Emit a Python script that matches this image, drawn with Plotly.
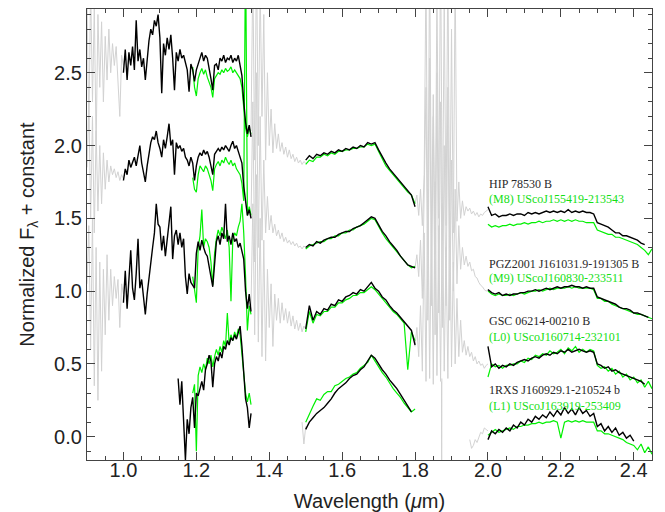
import numpy as np
import plotly.graph_objects as go

# sampling of the spectra (micron)
J_STEP = 0.005
HK_STEP = 0.01

# ---------------- HIP 78530 B  /  (M8) USco J155419-213543 ----------------
OBJ1_GRAY_A = [3.00, 2.10, 3.10, 2.30, 2.95, 2.00, 2.90, 2.40, 2.85, 2.30,
               2.75, 2.45, 2.80, 2.50, 2.70, 2.55, 2.68, 2.45, 2.20, 2.62, 2.55]
OBJ1_GRAY_B = [2.10, 3.20, 1.90, 3.30, 2.00, 3.10, 2.20, 2.90, 1.90, 2.50,
               2.00, 2.25, 1.95, 2.15, 1.98, 2.08, 1.96, 2.02, 1.94, 1.99,
               1.92, 1.97, 1.91, 1.94, 1.89, 1.92, 1.88, 1.90, 1.87, 1.89, 1.88]
OBJ1_GRAY_C = [1.60, 1.66, 1.52, 1.70, 1.45, 1.80, 3.20, 1.30, 3.30, 1.40,
               2.35, 1.25, 3.10, 1.50, 3.40, 1.35, 3.00, 1.45, 3.30, 1.30,
               2.80, 1.40, 3.20, 1.48, 1.75, 1.50, 1.62, 1.52, 1.58, 1.55,
               1.57, 1.53, 1.55, 1.52, 1.54, 1.51, 1.53, 1.52, 1.54, 1.55, 1.56]
OBJ1_J_BLACK = [2.50, 2.66, 2.45, 2.64, 2.55, 2.68, 2.52, 2.86, 2.58, 2.66,
                2.54, 2.60, 2.45, 2.62, 2.72, 2.80, 2.76, 2.86, 2.82, 2.90,
                2.74, 2.36, 2.70, 2.62, 2.74, 2.66, 2.76, 2.60, 2.38, 2.64,
                2.58, 2.66, 2.60, 2.62, 2.56, 2.52, 2.37, 2.56, 2.52, 2.44,
                2.52, 2.56, 2.60, 2.64, 2.58, 2.62, 2.60, 2.54, 2.46, 2.38,
                2.55, 2.56, 2.52, 2.60, 2.58, 2.62, 2.57, 2.60, 2.59, 2.62,
                2.57, 2.60, 2.58, 2.62, 2.56, 2.48, 2.30, 2.16, 2.08, 2.14, 2.06]
OBJ1_J_GREEN = [2.54, 2.40, 2.34, 2.46, 2.50, 2.53, 2.49, 2.52, 2.47, 2.44,
                2.40, 2.33, 2.46, 2.48, 2.50, 2.49, 2.52, 2.50, 2.53, 2.51,
                2.52, 2.54, 2.50, 2.52, 2.50, 2.48, 2.46, 2.40, 2.24, 2.12,
                2.06, 2.12, 2.08]
OBJ1_H_BLACK = [1.90, 1.93, 1.91, 1.94, 1.93, 1.95, 1.94, 1.96, 1.95, 1.97,
                1.96, 1.98, 1.97, 1.99, 1.98, 2.00, 1.99, 2.02, 2.01, 2.02,
                1.97, 1.92, 1.88, 1.84, 1.81, 1.78, 1.75, 1.72, 1.69, 1.66, 1.58]
OBJ1_H_GREEN = [1.87, 1.90, 1.89, 1.92, 1.92, 1.94, 1.93, 1.95, 1.94, 1.96,
                1.96, 1.97, 1.97, 1.98, 1.98, 1.99, 1.99, 2.01, 2.00, 2.01,
                1.96, 1.91, 1.86, 1.83, 1.80, 1.77, 1.74, 1.71, 1.68, 1.66, 1.60]
OBJ1_K_BLACK = [1.58, 1.52, 1.53, 1.51, 1.52, 1.52, 1.53, 1.52, 1.53, 1.53,
                1.52, 1.54, 1.53, 1.54, 1.53, 1.54, 1.55, 1.54, 1.55, 1.54,
                1.55, 1.54, 1.56, 1.54, 1.55, 1.54, 1.55, 1.54, 1.54, 1.53,
                1.47, 1.46, 1.45, 1.44, 1.42, 1.40, 1.40, 1.38, 1.38, 1.37,
                1.36, 1.35, 1.33, 1.32]
OBJ1_K_GREEN = [1.46, 1.44, 1.45, 1.44, 1.45, 1.45, 1.46, 1.45, 1.46, 1.46,
                1.47, 1.46, 1.47, 1.47, 1.48, 1.47, 1.48, 1.48, 1.49, 1.48,
                1.49, 1.48, 1.49, 1.48, 1.49, 1.48, 1.48, 1.47, 1.47, 1.47,
                1.42, 1.41, 1.40, 1.39, 1.39, 1.37, 1.37, 1.36, 1.35, 1.34,
                1.33, 1.32, 1.30, 1.28, 1.25, 1.29]

# ------------- PGZ2001 J161031.9-191305 B  /  (M9) USco J160830-233511 -------------
OBJ2_GRAY_A = [1.85, 2.30, 1.50, 2.20, 1.40, 2.10, 1.55, 2.00, 1.60, 1.95,
               1.70, 1.90, 1.75, 1.86, 1.80, 1.84, 1.78, 1.82, 1.76, 1.80, 1.77]
OBJ2_GRAY_B = [1.50, 2.30, 1.20, 2.50, 1.30, 2.20, 1.35, 1.90, 1.40, 1.65,
               1.42, 1.52, 1.40, 1.46, 1.38, 1.42, 1.36, 1.40, 1.34, 1.37,
               1.33, 1.35, 1.32, 1.34, 1.31, 1.33, 1.30, 1.31, 1.29, 1.31, 1.30]
OBJ2_GRAY_C = [1.16, 1.25, 1.10, 1.35, 0.95, 1.60, 2.40, 0.80, 2.60, 0.90,
               2.20, 0.70, 2.50, 0.85, 2.30, 0.75, 2.00, 0.90, 2.40, 0.80,
               1.90, 1.00, 1.70, 1.05, 1.45, 1.15, 1.30, 1.18, 1.24, 1.17,
               1.20, 1.14, 1.15, 1.10, 1.09, 1.06, 1.04, 1.03, 1.01, 1.00, 1.01]
OBJ2_J_BLACK = [1.76, 1.84, 1.80, 1.90, 1.85, 1.88, 1.92, 1.86, 1.94, 2.00,
                1.88, 1.80, 1.75, 1.86, 1.96, 2.02, 2.06, 2.04, 2.10, 2.02,
                1.98, 1.92, 2.04, 1.98, 2.06, 2.15, 2.00, 2.04, 1.80, 2.02,
                1.98, 2.00, 1.96, 1.98, 1.92, 1.90, 1.86, 1.92, 1.88, 1.76,
                1.86, 1.92, 1.95, 1.93, 1.97, 1.94, 1.96, 1.92, 1.86, 1.80,
                1.94, 1.96, 1.98, 1.96, 1.99, 1.97, 2.00, 1.98, 1.96, 2.00,
                2.03, 1.98, 2.00, 1.96, 1.92, 1.88, 1.72, 1.60, 1.52, 1.56, 1.50]
OBJ2_J_GREEN = [1.78, 1.70, 1.68, 1.80, 1.86, 1.84, 1.82, 1.86, 1.84, 1.80,
                1.76, 1.69, 1.84, 1.87, 1.89, 1.86, 1.90, 1.88, 1.92, 1.89,
                1.87, 1.90, 1.86, 1.88, 1.84, 1.82, 1.80, 1.74, 1.62, 3.40,
                1.52, 1.58, 1.52]
OBJ2_H_BLACK = [1.30, 1.32, 1.31, 1.34, 1.33, 1.35, 1.36, 1.37, 1.37, 1.39,
                1.40, 1.41, 1.41, 1.43, 1.44, 1.45, 1.47, 1.49, 1.51, 1.50,
                1.45, 1.41, 1.38, 1.34, 1.31, 1.28, 1.24, 1.21, 1.18, 1.17, 1.16]
OBJ2_H_GREEN = [1.29, 1.31, 1.32, 1.33, 1.34, 1.34, 1.36, 1.36, 1.38, 1.38,
                1.40, 1.40, 1.42, 1.42, 1.44, 1.45, 1.46, 1.48, 1.50, 1.49,
                1.44, 1.40, 1.36, 1.33, 1.30, 1.27, 1.24, 1.21, 1.18, 1.16, 1.17]
OBJ2_K_BLACK = [1.01, 0.99, 0.98, 0.99, 0.97, 0.98, 0.97, 0.98, 0.98, 0.99,
                0.99, 1.00, 1.00, 1.01, 1.00, 1.01, 1.02, 1.01, 1.02, 1.03,
                1.02, 1.03, 1.03, 1.04, 1.03, 1.03, 1.02, 1.03, 1.02, 1.02,
                0.96, 0.95, 0.94, 0.93, 0.92, 0.91, 0.89, 0.88, 0.88, 0.87,
                0.85, 0.85, 0.84, 0.83, 0.82]
OBJ2_K_GREEN = [1.00, 0.98, 0.97, 0.98, 0.97, 0.97, 0.98, 0.97, 0.98, 0.99,
                0.98, 0.99, 1.00, 1.00, 1.01, 1.00, 1.01, 1.02, 1.01, 1.02,
                1.02, 1.02, 1.03, 1.02, 1.03, 1.02, 1.02, 1.02, 1.02, 1.01,
                0.95, 0.95, 0.93, 0.93, 0.91, 0.90, 0.89, 0.88, 0.87, 0.86,
                0.85, 0.84, 0.84, 0.83, 0.82, 0.81]

# ---------------- GSC 06214-00210 B  /  (L0) USco J160714-232101 ----------------
OBJ3_GRAY_A = [1.05, 1.45, 0.60, 1.50, 0.35, 1.30, 0.25, 1.20, 0.45, 1.15,
               0.70, 1.25, 0.80, 1.15, 0.90, 1.10, 0.95, 1.08, 0.75, 1.05, 0.98]
OBJ3_GRAY_B = [0.90, 1.60, 0.70, 1.80, 0.65, 1.50, 0.55, 1.35, 0.52, 1.15,
               0.75, 1.05, 0.62, 0.98, 0.80, 0.95, 0.78, 0.92, 0.80, 0.88,
               0.78, 0.86, 0.76, 0.83, 0.74, 0.80, 0.73, 0.78, 0.72, 0.76, 0.74]
OBJ3_GRAY_C = [0.62, 0.75, 0.55, 0.90, 0.45, 1.40, 0.38, 1.70, 0.40, 1.50,
               0.36, 1.75, 0.42, 1.45, 0.38, 1.60, 0.45, 1.30, 0.40, 1.55,
               0.48, 1.20, 0.50, 0.95, 0.55, 0.80, 0.58, 0.66, 0.56, 0.62,
               0.55, 0.58, 0.52, 0.55, 0.50, 0.52, 0.49, 0.50, 0.47, 0.49, 0.50]
OBJ3_J_BLACK = [0.92, 1.14, 0.88, 1.10, 1.28, 1.02, 0.94, 1.12, 1.36, 1.02,
                1.08, 0.96, 0.84, 0.98, 1.10, 1.20, 1.30, 1.40, 1.60, 1.46,
                1.44, 1.28, 1.38, 1.24, 1.36, 1.48, 1.58, 1.22, 1.38, 1.42,
                1.32, 1.40, 1.30, 1.36, 1.10, 0.98, 1.12, 1.06, 1.04, 1.02,
                1.26, 1.34, 1.28, 1.35, 1.30, 1.26, 1.24, 1.18, 1.10, 1.03,
                1.22, 1.34, 1.38, 1.32, 1.40, 1.36, 1.60, 1.34, 1.38, 1.32,
                1.40, 1.34, 1.36, 1.30, 1.33, 1.28, 1.22, 1.00, 0.88, 0.98, 0.86]
OBJ3_J_GREEN = [1.10, 1.02, 0.92, 1.30, 1.38, 1.56, 1.30, 1.36, 1.34, 1.30,
                1.20, 1.04, 1.26, 1.36, 1.42, 1.38, 1.44, 1.40, 1.36, 1.42,
                1.30, 0.93, 1.36, 1.40, 1.38, 1.44, 1.48, 1.60, 1.40, 1.10,
                0.73, 0.90, 0.84]
OBJ3_H_BLACK = [0.74, 0.90, 0.80, 0.86, 0.84, 0.88, 0.87, 0.91, 0.90, 0.94,
                0.93, 0.96, 0.97, 0.99, 0.98, 1.01, 1.00, 1.03, 1.06, 1.02,
                1.00, 0.96, 0.94, 0.90, 0.87, 0.85, 0.82, 0.79, 0.76, 0.73, 0.63]
OBJ3_H_GREEN = [0.72, 0.86, 0.78, 0.84, 0.83, 0.86, 0.86, 0.89, 0.89, 0.92,
                0.92, 0.94, 0.95, 0.97, 0.97, 0.99, 0.99, 1.01, 1.03, 1.01,
                0.98, 0.95, 0.92, 0.89, 0.86, 0.84, 0.81, 0.78, 0.46, 0.72, 0.66]
OBJ3_K_BLACK = [0.62, 0.48, 0.50, 0.47, 0.49, 0.48, 0.50, 0.49, 0.51, 0.52,
                0.53, 0.52, 0.54, 0.55, 0.54, 0.56, 0.57, 0.56, 0.58, 0.57,
                0.59, 0.58, 0.60, 0.58, 0.59, 0.60, 0.59, 0.58, 0.59, 0.58,
                0.50, 0.49, 0.47, 0.48, 0.45, 0.46, 0.44, 0.43, 0.42, 0.41,
                0.40, 0.39, 0.38, 0.36]
OBJ3_K_GREEN = [0.41, 0.50, 0.48, 0.49, 0.47, 0.49, 0.49, 0.50, 0.50, 0.52,
                0.51, 0.54, 0.53, 0.56, 0.55, 0.57, 0.56, 0.59, 0.57, 0.58,
                0.60, 0.57, 0.61, 0.59, 0.62, 0.58, 0.60, 0.58, 0.60, 0.59,
                0.49, 0.47, 0.48, 0.45, 0.47, 0.43, 0.45, 0.41, 0.43, 0.39,
                0.41, 0.37, 0.39, 0.34, 0.38, 0.33]

# ---------------- 1RXS J160929.1-210524 b  /  (L1) USco J163919-253409 ----------------
OBJ4_GRAY_B = [0.10, -0.05, 0.07]
OBJ4_GRAY_SPIKE = [0.38, -0.25, 0.40]
OBJ4_GRAY_C = [-0.02, -0.08, -0.06, -0.02, -0.04, 0.00, 0.03, 0.02, 0.06, 0.05, 0.04]
OBJ4_J_BLACK = [0.40, 0.22, 0.38, 0.10, -0.16, 0.12, 0.02, 0.20, 0.27, 0.06,
                0.30, 0.28, 0.34, 0.38, 0.32, 0.46, 0.50, 0.56, 0.52, 0.34,
                0.50, 0.55, 0.52, 0.58, 0.54, 0.62, 0.60, 0.66, 0.63, 0.68,
                0.66, 0.70, 0.67, 0.72, 0.76, 0.62, 0.44, 0.26, 0.20, 0.06, 0.16]
OBJ4_J_GREEN = [0.30, 0.36, -0.10, 0.42, 0.48, 0.44, 0.50, 0.46, 0.54, 0.50,
                0.56, 0.48, 0.55, 0.60, 0.56, 0.62, 0.58, 0.66, 0.62, 0.85,
                0.64, 0.70, 0.66, 0.72, 0.68, 0.74, 0.70, 0.56, 0.42, 0.30,
                0.24, 0.30, 0.22]
OBJ4_H_BLACK = [0.05, 0.10, 0.13, 0.16, 0.18, 0.20, 0.23, 0.26, 0.30, 0.33,
                0.35, 0.37, 0.40, 0.42, 0.43, 0.46, 0.48, 0.52, 0.56, 0.54,
                0.50, 0.46, 0.43, 0.39, 0.36, 0.33, 0.29, 0.25, 0.21, 0.17]
OBJ4_H_GREEN = [0.10, 0.16, 0.21, 0.26, 0.25, 0.29, 0.31, 0.31, 0.35, 0.36,
                0.38, 0.40, 0.41, 0.43, 0.44, 0.47, 0.49, 0.51, 0.56, 0.52,
                0.48, 0.44, 0.41, 0.37, 0.33, 0.30, 0.27, 0.23, 0.20, 0.17, 0.19]
OBJ4_K_BLACK = [-0.02, 0.04, 0.02, 0.05, 0.03, 0.06, 0.04, 0.08, 0.06, 0.10,
                0.08, 0.12, 0.10, 0.14, 0.12, 0.15, 0.13, 0.17, 0.14, 0.18,
                0.15, 0.20, 0.16, 0.19, 0.15, 0.20, 0.16, 0.18, 0.14, 0.16,
                0.07, 0.09, 0.04, 0.07, 0.03, 0.06, 0.01, 0.03, -0.01, 0.01, -0.03]
OBJ4_K_GREEN = [0.01, 0.03, 0.05, 0.03, 0.04, 0.05, 0.06, 0.05, 0.07, 0.07,
                0.08, 0.08, 0.09, 0.09, 0.10, 0.09, 0.10, 0.10, 0.11, 0.10,
                -0.01, 0.10, 0.11, 0.10, 0.11, 0.10, 0.11, 0.10, 0.10, 0.10,
                0.04, 0.04, 0.02, 0.02, 0.01, 0.00, -0.01, -0.02, -0.04, -0.05,
                -0.06, -0.09, -0.05, -0.11, -0.07, -0.12]

OBJECT_NAMES = ["HIP 78530 B", "PGZ2001 J161031.9-191305 B",
                "GSC 06214-00210 B", "1RXS J160929.1-210524 b"]
TEMPLATE_NAMES = ["(M8) UScoJ155419-213543", "(M9) UScoJ160830-233511",
                  "(L0) UScoJ160714-232101", "(L1) UScoJ163919-253409"]

# (start wavelength, step, flux)
GRAY_SEGMENTS = [
    (0.90, J_STEP, OBJ1_GRAY_A), (1.35, J_STEP, OBJ1_GRAY_B), (1.80, J_STEP, OBJ1_GRAY_C),
    (0.90, J_STEP, OBJ2_GRAY_A), (1.35, J_STEP, OBJ2_GRAY_B), (1.80, J_STEP, OBJ2_GRAY_C),
    (0.90, J_STEP, OBJ3_GRAY_A), (1.35, J_STEP, OBJ3_GRAY_B), (1.80, J_STEP, OBJ3_GRAY_C),
    (1.49, J_STEP, OBJ4_GRAY_B), (1.8725, 0.0005, OBJ4_GRAY_SPIKE), (1.95, J_STEP, OBJ4_GRAY_C),
]
GREEN_SEGMENTS = [
    (1.19, J_STEP, OBJ1_J_GREEN), (1.50, HK_STEP, OBJ1_H_GREEN), (2.00, HK_STEP, OBJ1_K_GREEN),
    (1.19, J_STEP, OBJ2_J_GREEN), (1.50, HK_STEP, OBJ2_H_GREEN), (2.00, HK_STEP, OBJ2_K_GREEN),
    (1.19, J_STEP, OBJ3_J_GREEN), (1.50, HK_STEP, OBJ3_H_GREEN), (2.00, HK_STEP, OBJ3_K_GREEN),
    (1.19, J_STEP, OBJ4_J_GREEN), (1.50, HK_STEP, OBJ4_H_GREEN), (2.00, HK_STEP, OBJ4_K_GREEN),
]
BLACK_SEGMENTS = [
    (1.00, J_STEP, OBJ1_J_BLACK), (1.50, HK_STEP, OBJ1_H_BLACK), (2.00, HK_STEP, OBJ1_K_BLACK),
    (1.00, J_STEP, OBJ2_J_BLACK), (1.50, HK_STEP, OBJ2_H_BLACK), (2.00, HK_STEP, OBJ2_K_BLACK),
    (1.00, J_STEP, OBJ3_J_BLACK), (1.50, HK_STEP, OBJ3_H_BLACK), (2.00, HK_STEP, OBJ3_K_BLACK),
    (1.15, J_STEP, OBJ4_J_BLACK), (1.50, HK_STEP, OBJ4_H_BLACK), (2.00, HK_STEP, OBJ4_K_BLACK),
]

GRAY = "#d2d2d2"
GREEN = "#00f000"
BLACK = "#000000"
TEXT = "#222222"
AXIS = "#444444"


def wavelengths(start, step, flux):
    return np.round(start + step * np.arange(len(flux)), 5)


fig = go.Figure()

for segments, color, width in [(GRAY_SEGMENTS, GRAY, 1.0),
                               (GREEN_SEGMENTS, GREEN, 1.2),
                               (BLACK_SEGMENTS, BLACK, 1.4)]:
    for start, step, flux in segments:
        fig.add_trace(go.Scatter(
            x=wavelengths(start, step, flux),
            y=flux,
            mode="lines",
            line=dict(color=color, width=width),
            hoverinfo="skip",
            showlegend=False,
        ))

# labels next to the K band spectra
name_y = [1.735, 1.186, 0.795, 0.322]
template_y = [1.632, 1.088, 0.685, 0.212]
for name, template, y1, y2 in zip(OBJECT_NAMES, TEMPLATE_NAMES, name_y, template_y):
    fig.add_annotation(x=1.998, y=y1, text=name, showarrow=False, xanchor="left",
                       yanchor="middle",
                       font=dict(family="Liberation Serif", size=12, color="#2a2a2a"))
    fig.add_annotation(x=1.998, y=y2, text=template, showarrow=False, xanchor="left",
                       yanchor="middle",
                       font=dict(family="Liberation Serif", size=12, color="#14e014"))

axis_style = dict(
    automargin=False,
    showgrid=False,
    zeroline=False,
    showline=True,
    linecolor=AXIS,
    linewidth=1.2,
    mirror="allticks",
    ticks="inside",
    ticklen=8,
    tickwidth=1,
    tickcolor=AXIS,
    tickfont=dict(family="Liberation Sans", size=20, color=TEXT),
)

fig.update_xaxes(
    range=[0.9, 2.45],
    tick0=1.0,
    dtick=0.2,
    tickformat=".1f",
    ticklabelstandoff=-8,
    minor=dict(ticks="inside", ticklen=4, dtick=0.05, tick0=1.0, tickcolor=AXIS),
    title=dict(text="Wavelength (<i>μ</i>m)", standoff=14,
               font=dict(family="Liberation Sans", size=20, color=TEXT)),
    **axis_style,
)
fig.update_yaxes(
    range=[-0.16, 2.938],
    tick0=0,
    dtick=0.5,
    tickformat=".1f",
    ticklabelstandoff=0,
    minor=dict(ticks="inside", ticklen=4, dtick=0.1, tick0=0, tickcolor=AXIS),
    title=dict(text="Normalized F<sub>λ</sub> + constant", standoff=14,
               font=dict(family="Liberation Sans", size=20, color=TEXT)),
    **axis_style,
)

# the page adds an 8 px body margin, so the figure is 8 px smaller each way
fig.update_layout(
    width=657,
    height=504,
    margin=dict(l=79, r=13, t=1, b=52),
    plot_bgcolor="white",
    paper_bgcolor="white",
    showlegend=False,
)

fig.write_html("out.html")
